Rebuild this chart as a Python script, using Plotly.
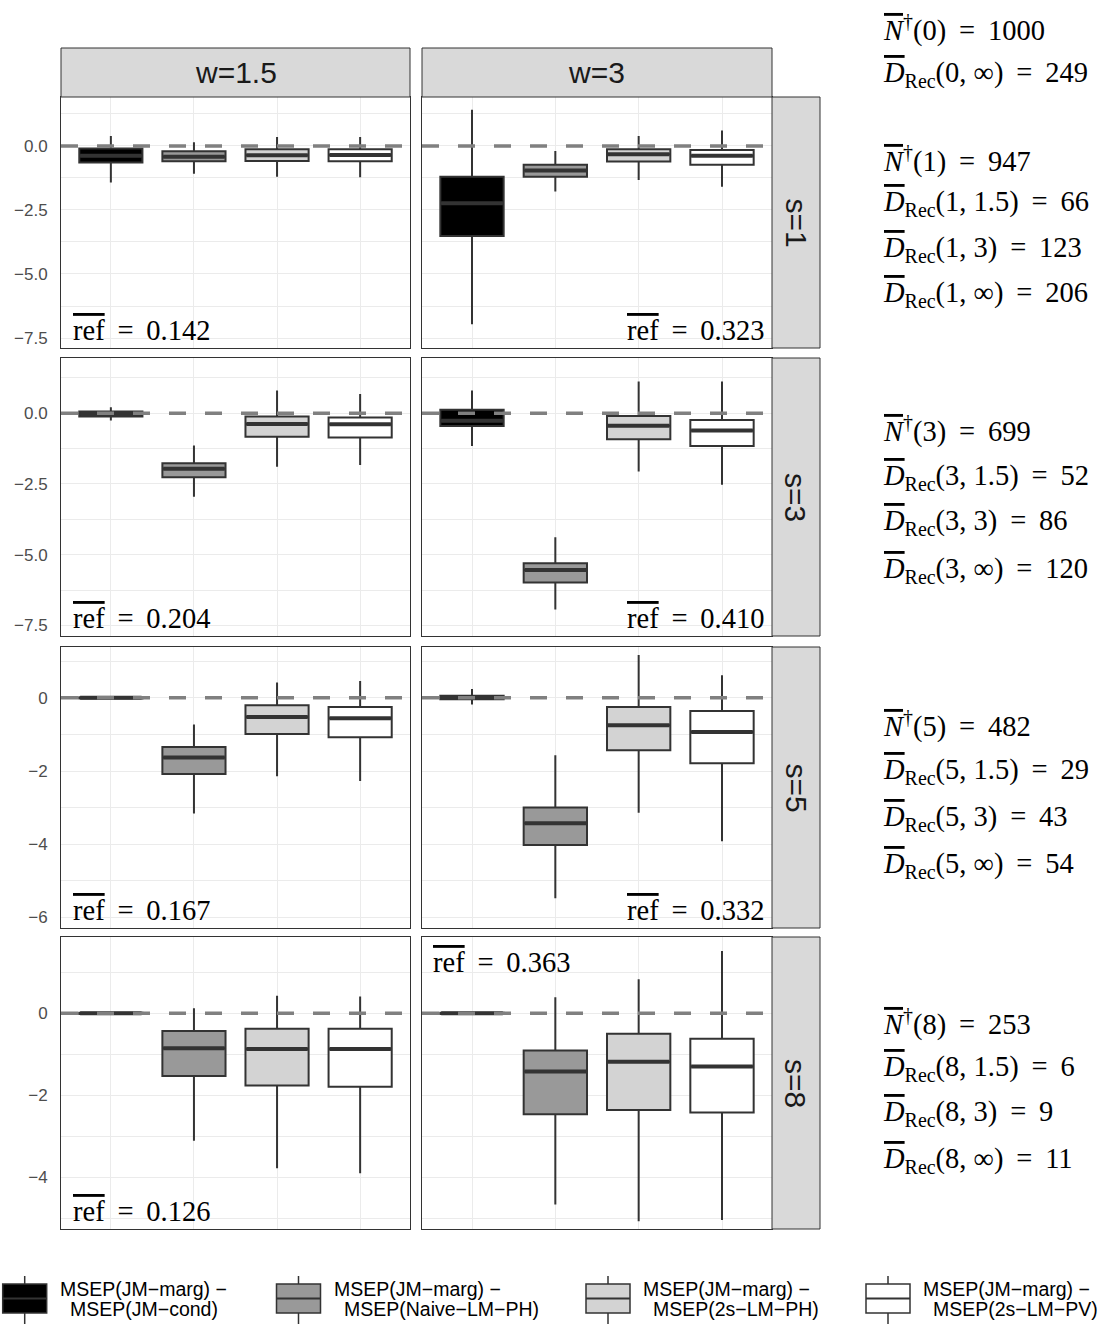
import plotly.graph_objects as go

W, H = 1110, 1325

# ---- data -------------------------------------------------------------
landmarks = ["s=1", "s=3", "s=5", "s=8"]
windows = ["w=1.5", "w=3"]
comparison_top = ["MSEP(JM−marg) −"] * 4
comparison_bottom = ["MSEP(JM−cond)", "MSEP(Naive−LM−PH)", "MSEP(2s−LM−PH)", "MSEP(2s−LM−PV)"]

# box statistics, one list of 4 comparisons per panel
# panel order: (s=1,w=1.5), (s=1,w=3), (s=3,w=1.5), (s=3,w=3), (s=5,w=1.5), (s=5,w=3), (s=8,w=1.5), (s=8,w=3)
whisker_high = [
    [0.39, 0.14, 0.35, 0.35],
    [1.41, -0.20, 0.39, 0.60],
    [0.21, -1.14, 0.80, 0.68],
    [0.80, -4.38, 1.12, 1.12],
    [0.04, -0.73, 0.42, 0.46],
    [0.24, -1.57, 1.17, 0.62],
    [0.03, 0.12, 0.43, 0.41],
    [0.03, 0.39, 0.83, 1.52],
]
q3 = [
    [-0.10, -0.21, -0.13, -0.13],
    [-1.20, -0.74, -0.13, -0.16],
    [0.06, -1.77, -0.12, -0.15],
    [0.12, -5.30, -0.10, -0.24],
    [0.02, -1.34, -0.20, -0.25],
    [0.06, -3.00, -0.25, -0.36],
    [0.015, -0.43, -0.38, -0.38],
    [0.015, -0.91, -0.50, -0.62],
]
median = [
    [-0.38, -0.42, -0.36, -0.35],
    [-2.24, -0.96, -0.33, -0.38],
    [-0.03, -1.96, -0.38, -0.39],
    [-0.27, -5.54, -0.44, -0.61],
    [0.0, -1.63, -0.52, -0.56],
    [0.0, -3.43, -0.75, -0.93],
    [0.0, -0.85, -0.87, -0.87],
    [0.0, -1.42, -1.18, -1.30],
]
q1 = [
    [-0.65, -0.60, -0.59, -0.60],
    [-3.52, -1.20, -0.61, -0.74],
    [-0.12, -2.26, -0.83, -0.86],
    [-0.45, -5.98, -0.92, -1.16],
    [-0.02, -2.08, -0.99, -1.08],
    [-0.04, -4.02, -1.43, -1.79],
    [-0.015, -1.53, -1.76, -1.79],
    [-0.015, -2.46, -2.36, -2.42],
]
whisker_low = [
    [-1.43, -1.09, -1.20, -1.22],
    [-6.96, -1.78, -1.33, -1.59],
    [-0.26, -2.95, -1.89, -1.83],
    [-1.16, -6.93, -2.06, -2.53],
    [-0.04, -3.16, -2.14, -2.27],
    [-0.18, -5.48, -3.14, -3.92],
    [-0.03, -3.11, -3.78, -3.90],
    [-0.03, -4.66, -5.07, -5.04],
]
ref_mean = ["0.142", "0.323", "0.204", "0.410", "0.167", "0.332", "0.126", "0.363"]

# at-risk counts and recurrences per landmark time
landmark_times = ["0", "1", "3", "5", "8"]
n_at_risk = [1000, 947, 699, 482, 253]
d_rec_15 = [None, 66, 52, 29, 6]
d_rec_3 = [None, 123, 86, 43, 9]
d_rec_inf = [249, 206, 120, 54, 11]

# ---- styling ----------------------------------------------------------
fills = ["#000000", "#999999", "#d3d3d3", "#ffffff"]
edge = "#333333"
grid = "#ebebeb"
strip_fill = "#d9d9d9"
sans = "Liberation Sans, Arial, sans-serif"
serif = "Liberation Serif, DejaVu Serif, serif"
math_size = 28.5

col_px = [(61, 410), (422, 772)]
row_px = [(97, 348), (358, 636), (647, 928), (937, 1229)]
y_ranges = [(-7.89, 1.91), (-7.87, 1.95), (-6.29, 1.39), (-5.26, 1.86)]
y_dtick = [2.5, 2.5, 2, 2]
y_fmt = [".1f", ".1f", "d", "d"]
box_w = 0.76

EQ = "\u00a0\u2009=\u2009\u00a0"


def bar(s):
    return '<span style="text-decoration:overline">' + s + "</span>"


def fx(p):
    return p / W


def fy(p):
    return 1 - p / H


fig = go.Figure()
layout = dict(
    width=W, height=H, margin=dict(l=0, r=0, t=0, b=0),
    paper_bgcolor="white", plot_bgcolor="white", showlegend=False,
    boxmode="overlay",
)
shapes, annotations = [], []

for r in range(4):
    for c in range(2):
        k = r * 2 + c + 1
        p = k - 1
        sfx = "" if k == 1 else str(k)
        xa, ya = "x" + sfx, "y" + sfx
        layout["xaxis" + sfx] = dict(
            domain=[fx(col_px[c][0]), fx(col_px[c][1])], anchor=ya,
            range=[0.4, 4.6], tickvals=[1, 2, 3, 4], showticklabels=False,
            showgrid=True, gridcolor=grid, gridwidth=1.1, zeroline=False,
            showline=True, mirror=True, linecolor=edge, linewidth=1, ticks="",
            fixedrange=True,
        )
        layout["yaxis" + sfx] = dict(
            domain=[fy(row_px[r][1]), fy(row_px[r][0])], anchor=xa,
            range=list(y_ranges[r]), tickmode="linear", tick0=0, dtick=y_dtick[r],
            tickformat=y_fmt[r], showticklabels=(c == 0),
            tickfont=dict(family=sans, size=17, color="#4d4d4d"),
            ticklabelstandoff=9,
            showgrid=True, gridcolor=grid, gridwidth=1.1, zeroline=False,
            minor=dict(dtick=y_dtick[r] / 2, tick0=0, showgrid=True,
                       gridcolor=grid, gridwidth=0.6),
            showline=True, mirror=True, linecolor=edge, linewidth=1, ticks="",
            fixedrange=True,
        )
        for i in range(4):
            fig.add_trace(go.Box(
                x=[i + 1], q1=[q1[p][i]], median=[median[p][i]], q3=[q3[p][i]],
                lowerfence=[whisker_low[p][i]], upperfence=[whisker_high[p][i]],
                width=box_w, whiskerwidth=0, boxpoints=False,
                fillcolor=fills[i], line=dict(color=edge, width=2),
                xaxis=xa, yaxis=ya, hoverinfo="skip",
            ))
            # thicker median bar
            fig.add_trace(go.Scatter(
                x=[i + 1 - box_w / 2 + 0.01, i + 1 + box_w / 2 - 0.01],
                y=[median[p][i], median[p][i]], mode="lines",
                line=dict(color=edge, width=4), xaxis=xa, yaxis=ya,
                hoverinfo="skip",
            ))
        # reference line at zero
        shapes.append(dict(
            type="line", xref=xa + " domain", yref=ya, x0=0, x1=1, y0=0, y1=0,
            line=dict(color="#808080", width=3.5, dash="17px,19px"), layer="above",
        ))
        # mean reference value label
        label = bar("ref") + EQ + ref_mean[p]
        if c == 0:
            pos = dict(x=0.03, y=0.0, xanchor="left", yanchor="bottom")
        elif r == 3:
            pos = dict(x=0.025, y=1.0 - 8 / 292, xanchor="left", yanchor="top")
        else:
            pos = dict(x=0.985, y=0.0, xanchor="right", yanchor="bottom")
        annotations.append(dict(
            text=label, xref=xa + " domain", yref=ya + " domain", showarrow=False,
            font=dict(family=serif, size=math_size, color="black"), **pos,
        ))

# facet strips
for c in range(2):
    shapes.append(dict(type="rect", xref="paper", yref="paper",
                       x0=fx(col_px[c][0]), x1=fx(col_px[c][1]), y0=fy(97), y1=fy(48),
                       fillcolor=strip_fill, line=dict(color=edge, width=1)))
    annotations.append(dict(text=windows[c], xref="paper", yref="paper",
                            x=fx((col_px[c][0] + col_px[c][1]) / 2), y=fy(72.5),
                            xanchor="center", yanchor="middle", showarrow=False,
                            font=dict(family=sans, size=30, color="#1a1a1a")))
for r in range(4):
    shapes.append(dict(type="rect", xref="paper", yref="paper",
                       x0=fx(772), x1=fx(820), y0=fy(row_px[r][1]), y1=fy(row_px[r][0]),
                       fillcolor=strip_fill, line=dict(color=edge, width=1)))
    annotations.append(dict(text=landmarks[r], xref="paper", yref="paper",
                            x=fx(796), y=fy((row_px[r][0] + row_px[r][1]) / 2),
                            xanchor="center", yanchor="middle", showarrow=False,
                            textangle=90,
                            font=dict(family=sans, size=30, color="#1a1a1a")))

# at-risk summaries beside each row
text_rows = [
    (0, [28, 74]),
    (1, [160, 204, 250, 295]),
    (2, [430, 477, 523, 570]),
    (3, [724, 771, 818, 865]),
    (4, [1022, 1068, 1113, 1160]),
]
n_sym = "<i>" + bar("N") + "</i><sup>†</sup>"
d_sym = "<i>" + bar("D") + "</i><sub>Rec</sub>"
for j, ys in text_rows:
    t = landmark_times[j]
    lines = [n_sym + "(" + t + ")" + EQ + str(n_at_risk[j])]
    if j == 0:
        lines.append(d_sym + "(" + t + ", ∞)" + EQ + str(d_rec_inf[j]))
    else:
        lines.append(d_sym + "(" + t + ", 1.5)" + EQ + str(d_rec_15[j]))
        lines.append(d_sym + "(" + t + ", 3)" + EQ + str(d_rec_3[j]))
        lines.append(d_sym + "(" + t + ", ∞)" + EQ + str(d_rec_inf[j]))
    for txt, yy in zip(lines, ys):
        annotations.append(dict(text=txt, xref="paper", yref="paper",
                                x=fx(881), y=fy(yy), xanchor="left", yanchor="middle",
                                showarrow=False,
                                font=dict(family=serif, size=math_size, color="black")))

# legend keys drawn below the panels
key_cx = [24.7, 298.5, 608, 888]
key_half = 22
for i in range(4):
    cx = key_cx[i]
    shapes.append(dict(type="line", xref="paper", yref="paper",
                       x0=fx(cx), x1=fx(cx), y0=fy(1324), y1=fy(1276),
                       line=dict(color=edge, width=1.5)))
    shapes.append(dict(type="rect", xref="paper", yref="paper",
                       x0=fx(cx - key_half), x1=fx(cx + key_half), y0=fy(1313), y1=fy(1284),
                       fillcolor=fills[i], line=dict(color=edge, width=1.5)))
    shapes.append(dict(type="line", xref="paper", yref="paper",
                       x0=fx(cx - key_half), x1=fx(cx + key_half), y0=fy(1298.5), y1=fy(1298.5),
                       line=dict(color=edge, width=2)))
    x_text = cx + key_half + 11
    annotations.append(dict(text=comparison_top[i], xref="paper", yref="paper",
                            x=fx(x_text), y=fy(1289), xanchor="left", yanchor="middle",
                            showarrow=False, font=dict(family=sans, size=19.5, color="black")))
    annotations.append(dict(text=comparison_bottom[i], xref="paper", yref="paper",
                            x=fx(x_text + 10), y=fy(1309), xanchor="left", yanchor="middle",
                            showarrow=False, font=dict(family=sans, size=19.5, color="black")))

layout["shapes"] = shapes
layout["annotations"] = annotations
fig.update_layout(**layout)
fig.write_html("out.html")
